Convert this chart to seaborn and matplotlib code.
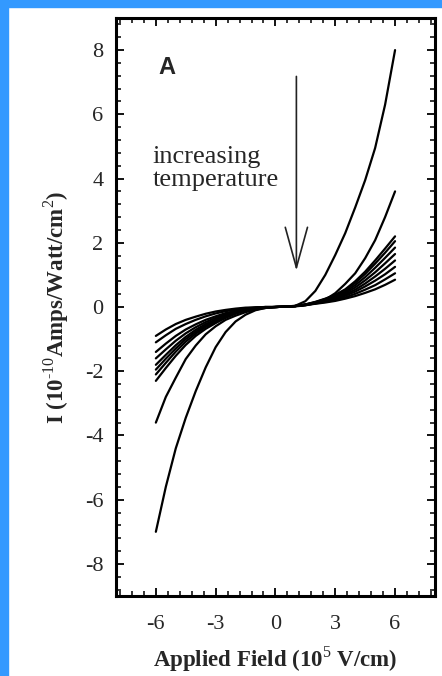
import numpy as np
import pandas as pd
import matplotlib
matplotlib.use("Agg")
import matplotlib.pyplot as plt
from matplotlib.patches import Rectangle
from matplotlib.ticker import MultipleLocator
import seaborn as sns

# applied field, 10^5 V/cm
field = [-6, -5.5, -5, -4.5, -4, -3.5, -3, -2.5, -2, -1.5, -1, -0.5, 0,
         0.5, 1, 1.5, 2, 2.5, 3, 3.5, 4, 4.5, 5, 5.5, 6]

# photocurrent, 10^-10 A/W/cm^2, lowest temperature first
curve_1 = [-7.0, -5.6, -4.4, -3.45, -2.62, -1.88, -1.25, -0.78, -0.45, -0.24, -0.1, -0.03, 0,
           0.01, 0.04, 0.18, 0.5, 1.0, 1.62, 2.3, 3.1, 3.95, 4.95, 6.3, 8.0]
curve_2 = [-3.6, -2.8, -2.2, -1.62, -1.2, -0.85, -0.6, -0.4, -0.27, -0.16, -0.08, -0.03, 0,
           0.01, 0.02, 0.05, 0.12, 0.23, 0.43, 0.72, 1.05, 1.52, 2.08, 2.8, 3.6]
curve_3 = [-2.3, -1.9, -1.52, -1.18, -0.9, -0.68, -0.5, -0.34, -0.21, -0.11, -0.05, -0.01, 0,
           0.01, 0.03, 0.08, 0.16, 0.26, 0.38, 0.55, 0.8, 1.1, 1.45, 1.82, 2.2]
curve_4 = [-2.1, -1.74, -1.39, -1.08, -0.83, -0.62, -0.46, -0.31, -0.19, -0.1, -0.04, -0.01, 0,
           0.01, 0.03, 0.08, 0.15, 0.25, 0.36, 0.52, 0.75, 1.03, 1.35, 1.69, 2.05]
curve_5 = [-1.95, -1.61, -1.29, -1.0, -0.77, -0.58, -0.42, -0.29, -0.18, -0.09, -0.04, -0.01, 0,
           0.01, 0.03, 0.07, 0.14, 0.23, 0.33, 0.47, 0.68, 0.93, 1.22, 1.53, 1.85]
curve_6 = [-1.8, -1.49, -1.19, -0.93, -0.71, -0.53, -0.39, -0.26, -0.16, -0.08, -0.03, -0.01, 0,
           0.01, 0.03, 0.07, 0.14, 0.21, 0.30, 0.43, 0.61, 0.83, 1.08, 1.36, 1.65]
curve_7 = [-1.6, -1.32, -1.05, -0.82, -0.63, -0.47, -0.34, -0.23, -0.14, -0.07, -0.03, -0.01, 0,
           0.01, 0.03, 0.07, 0.13, 0.19, 0.27, 0.39, 0.54, 0.73, 0.95, 1.19, 1.45]
curve_8 = [-1.4, -1.14, -0.9, -0.7, -0.54, -0.4, -0.29, -0.19, -0.12, -0.06, -0.02, 0, 0,
           0.01, 0.03, 0.07, 0.12, 0.18, 0.25, 0.35, 0.48, 0.64, 0.82, 1.02, 1.25]
curve_9 = [-1.1, -0.88, -0.68, -0.53, -0.4, -0.29, -0.2, -0.13, -0.08, -0.04, -0.02, 0, 0,
           0.01, 0.03, 0.06, 0.11, 0.16, 0.22, 0.30, 0.41, 0.54, 0.68, 0.86, 1.05]
curve_10 = [-0.9, -0.7, -0.53, -0.4, -0.3, -0.21, -0.14, -0.09, -0.05, -0.02, -0.01, 0, 0,
            0.01, 0.03, 0.06, 0.10, 0.14, 0.19, 0.26, 0.34, 0.44, 0.55, 0.69, 0.85]

curves = [curve_1, curve_2, curve_3, curve_4, curve_5,
          curve_6, curve_7, curve_8, curve_9, curve_10]

df = pd.concat(
    [pd.DataFrame({"field": field, "current": c, "curve": i}) for i, c in enumerate(curves)],
    ignore_index=True,
)

sns.set_style("ticks")
plt.rcParams["font.family"] = ["Liberation Serif", "DejaVu Serif"]
plt.rcParams["axes.unicode_minus"] = False
plt.rcParams["mathtext.fontset"] = "custom"
plt.rcParams["mathtext.rm"] = "Liberation Serif"
plt.rcParams["mathtext.bf"] = "Liberation Serif:bold"

fig = plt.figure(figsize=(4.42, 6.76), dpi=100)
ax = fig.add_axes([0.2624, 0.1183, 0.7216, 0.8551])

sns.lineplot(
    data=df, x="field", y="current", units="curve", estimator=None,
    color="black", linewidth=1.6, ax=ax,
)

ax.set_xlim(-8, 8)
ax.set_ylim(-9, 9)
ax.xaxis.set_major_locator(MultipleLocator(3))
ax.xaxis.set_minor_locator(MultipleLocator(0.6))
ax.yaxis.set_major_locator(MultipleLocator(2))
ax.yaxis.set_minor_locator(MultipleLocator(0.4))
ax.tick_params(which="both", direction="in", top=True, right=True, color="black")
ax.tick_params(which="major", length=6, width=1.3, labelsize=16)
ax.tick_params(axis="x", which="major", pad=14)
ax.tick_params(axis="y", which="major", pad=9)
ax.tick_params(which="minor", length=3.5, width=1.1)
for s in ax.spines.values():
    s.set_linewidth(2.2)
    s.set_color("black")

ax.set_xlabel(r"Applied Field (10$^{5}$ V/cm)", fontsize=16.5, fontweight="bold", labelpad=7)
ax.set_ylabel(r"I (10$^{\text{-}10}$Amps/Watt/cm$^{2}$)", fontsize=16.5, fontweight="bold",
              labelpad=10)

ax.text(-5.45, 7.46, "A", family=["Liberation Sans", "DejaVu Sans"], fontweight="bold",
        fontsize=17, ha="center", va="center")
ax.text(-6.15, 5.0, "increasing\ntemperature", fontsize=19, ha="left", va="top",
        linespacing=1.05)
ax.annotate(
    "", xy=(1.05, 1.13), xytext=(1.05, 7.18),
    arrowprops=dict(arrowstyle="->,head_length=2.9,head_width=0.8",
                    mutation_scale=10, color="#222222", lw=1.2, shrinkA=0, shrinkB=0),
)

# blue frame around the slide
fig.add_artist(Rectangle((0, 1 - 7 / 676), 1, 7 / 676, transform=fig.transFigure,
                         color="#3399ff", zorder=10))
fig.add_artist(Rectangle((0, 0), 8 / 442, 1, transform=fig.transFigure,
                         color="#3399ff", zorder=10))

fig.savefig("out.png", dpi=100)
